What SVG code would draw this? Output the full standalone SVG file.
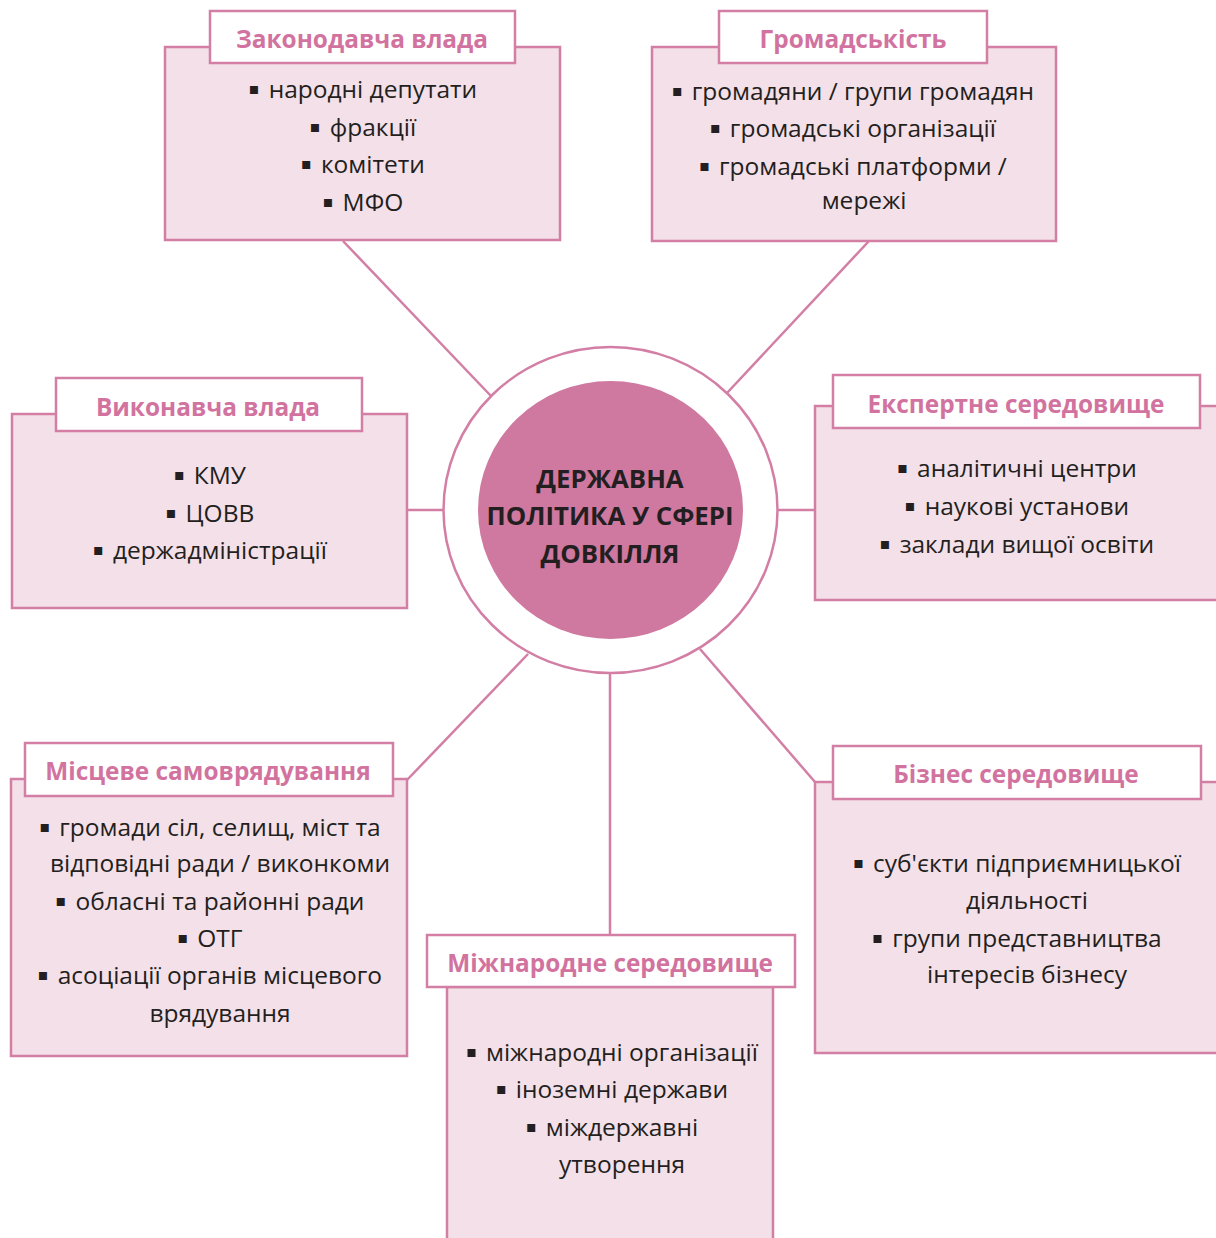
<svg xmlns="http://www.w3.org/2000/svg" width="1216" height="1238" viewBox="0 0 1216 1238">
<style>
.body{fill:#f4e0e9;stroke:#d37fa5;stroke-width:2.5}
.ttl{fill:#ffffff;stroke:#d37fa5;stroke-width:2.5}
.tt{font-family:"Open Sans","Noto Sans",sans-serif;font-weight:bold;font-size:24.4px;fill:#d2739f;text-anchor:middle}
.it{font-family:"Open Sans","Noto Sans",sans-serif;font-size:24.5px;fill:#231f20;text-anchor:middle}
.b{font-family:"DejaVu Sans",sans-serif;font-size:16px}
.conn{stroke:#d37fa5;stroke-width:2.5;fill:none}
.ct{font-family:"Open Sans","Noto Sans",sans-serif;font-weight:bold;font-size:25.8px;fill:#231f20;text-anchor:middle}
</style>
<rect width="1216" height="1238" fill="#ffffff"/>
<g id="connectors">
<line class="conn" x1="343" y1="241" x2="491" y2="396"/>
<line class="conn" x1="869" y1="241" x2="727" y2="393"/>
<line class="conn" x1="407" y1="510" x2="444" y2="510"/>
<line class="conn" x1="777" y1="510" x2="815" y2="510"/>
<line class="conn" x1="407" y1="780" x2="528" y2="654"/>
<line class="conn" x1="610" y1="672" x2="610" y2="935"/>
<line class="conn" x1="700" y1="649" x2="815" y2="782"/>
</g>
<g id="center">
<ellipse cx="610.5" cy="510" rx="167" ry="163" fill="#ffffff" stroke="#d37fa5" stroke-width="2.5"/>
<ellipse cx="610.5" cy="510" rx="132.5" ry="129" fill="#cf78a0"/>
<text class="ct" x="610" y="488">ДЕРЖАВНА</text>
<text class="ct" x="610" y="525">ПОЛІТИКА У СФЕРІ</text>
<text class="ct" x="610" y="563">ДОВКІЛЛЯ</text>
</g>
<g id="legislative">
<rect class="body" x="165" y="47" width="395" height="193"/>
<rect class="ttl" x="210" y="11" width="305" height="52"/>
<text class="tt" x="362" y="48">Законодавча влада</text>
<text class="it" x="363" y="98"><tspan class="b" dy="-4">▪</tspan><tspan dx="9" dy="4">народні депутати</tspan></text>
<text class="it" x="363" y="136"><tspan class="b" dy="-4">▪</tspan><tspan dx="9" dy="4">фракції</tspan></text>
<text class="it" x="363" y="173"><tspan class="b" dy="-4">▪</tspan><tspan dx="9" dy="4">комітети</tspan></text>
<text class="it" x="363" y="211"><tspan class="b" dy="-4">▪</tspan><tspan dx="9" dy="4">МФО</tspan></text>
</g>
<g id="public">
<rect class="body" x="652" y="47" width="404" height="194"/>
<rect class="ttl" x="719" y="11" width="268" height="52"/>
<text class="tt" x="853" y="48">Громадськість</text>
<text class="it" x="853" y="100"><tspan class="b" dy="-4">▪</tspan><tspan dx="9" dy="4">громадяни / групи громадян</tspan></text>
<text class="it" x="853" y="137"><tspan class="b" dy="-4">▪</tspan><tspan dx="9" dy="4">громадські організації</tspan></text>
<text class="it" x="853" y="175"><tspan class="b" dy="-4">▪</tspan><tspan dx="9" dy="4">громадські платформи /</tspan></text>
<text class="it" x="864" y="209">мережі</text>
</g>
<g id="executive">
<rect class="body" x="12" y="414" width="395" height="194"/>
<rect class="ttl" x="56" y="378" width="306" height="53"/>
<text class="tt" x="208" y="416">Виконавча влада</text>
<text class="it" x="210" y="484"><tspan class="b" dy="-4">▪</tspan><tspan dx="9" dy="4">КМУ</tspan></text>
<text class="it" x="210" y="522"><tspan class="b" dy="-4">▪</tspan><tspan dx="9" dy="4">ЦОВВ</tspan></text>
<text class="it" x="210" y="559"><tspan class="b" dy="-4">▪</tspan><tspan dx="9" dy="4">держадміністрації</tspan></text>
</g>
<g id="expert">
<rect class="body" x="815" y="406" width="410" height="194"/>
<rect class="ttl" x="833" y="375" width="367" height="53"/>
<text class="tt" x="1016" y="413">Експертне середовище</text>
<text class="it" x="1017" y="477"><tspan class="b" dy="-4">▪</tspan><tspan dx="9" dy="4">аналітичні центри</tspan></text>
<text class="it" x="1017" y="515"><tspan class="b" dy="-4">▪</tspan><tspan dx="9" dy="4">наукові установи</tspan></text>
<text class="it" x="1017" y="553"><tspan class="b" dy="-4">▪</tspan><tspan dx="9" dy="4">заклади вищої освіти</tspan></text>
</g>
<g id="local">
<rect class="body" x="11" y="779" width="396" height="277"/>
<rect class="ttl" x="25" y="743" width="368" height="53"/>
<text class="tt" x="208" y="780">Місцеве самоврядування</text>
<text class="it" x="210" y="836"><tspan class="b" dy="-4">▪</tspan><tspan dx="9" dy="4">громади сіл, селищ, міст та</tspan></text>
<text class="it" x="220" y="872">відповідні ради / виконкоми</text>
<text class="it" x="210" y="910"><tspan class="b" dy="-4">▪</tspan><tspan dx="9" dy="4">обласні та районні ради</tspan></text>
<text class="it" x="210" y="947"><tspan class="b" dy="-4">▪</tspan><tspan dx="9" dy="4">ОТГ</tspan></text>
<text class="it" x="210" y="984"><tspan class="b" dy="-4">▪</tspan><tspan dx="9" dy="4">асоціації органів місцевого</tspan></text>
<text class="it" x="220" y="1022">врядування</text>
</g>
<g id="international">
<rect class="body" x="447" y="987" width="326" height="260"/>
<rect class="ttl" x="427" y="935" width="368" height="52"/>
<text class="tt" x="610" y="972">Міжнародне середовище</text>
<text class="it" x="612" y="1061"><tspan class="b" dy="-4">▪</tspan><tspan dx="9" dy="4">міжнародні організації</tspan></text>
<text class="it" x="612" y="1098"><tspan class="b" dy="-4">▪</tspan><tspan dx="9" dy="4">іноземні держави</tspan></text>
<text class="it" x="612" y="1136"><tspan class="b" dy="-4">▪</tspan><tspan dx="9" dy="4">міждержавні</tspan></text>
<text class="it" x="622" y="1173">утворення</text>
</g>
<g id="business">
<rect class="body" x="815" y="782" width="410" height="271"/>
<rect class="ttl" x="833" y="746" width="368" height="53"/>
<text class="tt" x="1016" y="783">Бізнес середовище</text>
<text class="it" x="1017" y="872"><tspan class="b" dy="-4">▪</tspan><tspan dx="9" dy="4">суб'єкти підприємницької</tspan></text>
<text class="it" x="1027" y="909">діяльності</text>
<text class="it" x="1017" y="947"><tspan class="b" dy="-4">▪</tspan><tspan dx="9" dy="4">групи представництва</tspan></text>
<text class="it" x="1027" y="983">інтересів бізнесу</text>
</g>
</svg>
